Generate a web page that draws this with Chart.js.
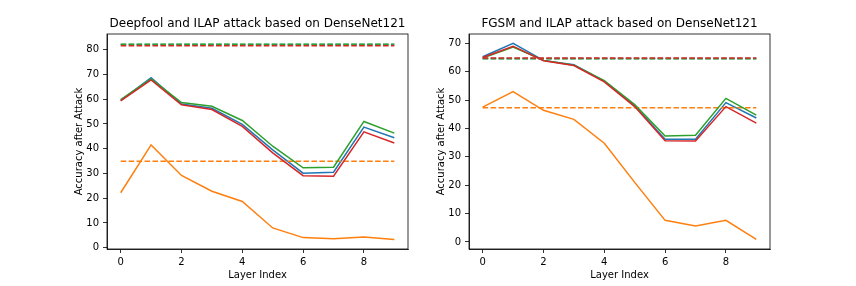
<!DOCTYPE html>
<html>
<head>
<meta charset="utf-8">
<script src="https://cdn.jsdelivr.net/npm/chart.js@4.4.0/dist/chart.umd.min.js"></script>
<style>
  html, body { margin: 0; padding: 0; background: #fff; }
  #wrap { position: relative; width: 856px; height: 286px; }
  canvas { position: absolute; top: 0; }
  #c1 { left: 0; }
  #c2 { left: 428px; }
</style>
</head>
<body>
<div id="wrap">
  <canvas id="c1" width="428" height="286"></canvas>
  <canvas id="c2" width="428" height="286"></canvas>
</div>
<script>
// layer index on the x axis
const layers = [0, 1, 2, 3, 4, 5, 6, 7, 8, 9];
const xTicks = [0, 2, 4, 6, 8];

// Deepfool (left panel)
const dfBlue   = [59.5, 68.7, 58.0, 56.3, 49.8, 39.5, 30.1, 30.5, 48.7, 44.4];
const dfOrange = [22.2, 41.5, 29.2, 22.8, 18.7, 8.0, 4.1, 3.6, 4.3, 3.3];
const dfGreen  = [59.8, 68.2, 58.6, 57.1, 51.4, 41.0, 32.3, 32.5, 51.0, 46.3];
const dfRed    = [59.3, 67.8, 57.7, 55.8, 49.0, 38.3, 29.1, 28.9, 46.8, 42.3];
const dfBase   = [82.1, 34.9, 82.2, 81.6]; // dashed: blue, orange, green, red
const dfYTicks = [0, 10, 20, 30, 40, 50, 60, 70, 80];

// FGSM (right panel)
const fgBlue   = [65.3, 70.0, 64.0, 62.5, 56.7, 48.0, 36.2, 36.2, 49.1, 43.7];
const fgOrange = [47.5, 53.0, 46.4, 43.2, 34.8, 21.0, 7.6, 5.6, 7.6, 0.9];
const fgGreen  = [64.8, 68.7, 64.0, 62.3, 56.9, 48.4, 37.3, 37.6, 50.6, 44.7];
const fgRed    = [65.0, 69.0, 63.9, 62.2, 56.4, 47.7, 35.7, 35.6, 47.7, 41.9];
const fgBase   = [64.7, 47.3, 64.6, 64.8];
const fgYTicks = [0, 10, 20, 30, 40, 50, 60, 70];

const colors = ["#1f77b4", "#ff7f0e", "#2ca02c", "#d62728"];

Chart.defaults.font.family = "'DejaVu Sans', sans-serif";
Chart.defaults.color = "#000";

// axes frame (top and right spines too)
const frame = {
  id: "frame",
  afterDraw(chart) {
    const a = chart.chartArea, ctx = chart.ctx;
    ctx.save();
    ctx.strokeStyle = "#000";
    ctx.lineWidth = 0.8;
    ctx.strokeRect(a.left, a.top, a.right - a.left, a.bottom - a.top);
    ctx.restore();
  }
};

function makeChart(id, title, series, base, yTicks, yMin, yMax, yWidth, yTitlePad, rightPad) {
  const datasets = [];
  series.forEach(function (s, i) {
    datasets.push({
      data: s.map(function (v, j) { return { x: layers[j], y: v }; }),
      borderColor: colors[i],
      borderWidth: 1.5,
      pointRadius: 0,
      tension: 0,
      order: 20 - datasets.length
    });
    datasets.push({
      data: [{ x: layers[0], y: base[i] }, { x: layers[layers.length - 1], y: base[i] }],
      borderColor: colors[i],
      borderWidth: 1.5,
      borderDash: [5.55, 2.4],
      pointRadius: 0,
      order: 20 - datasets.length
    });
  });

  return new Chart(document.getElementById(id), {
    type: "line",
    data: { datasets: datasets },
    plugins: [frame],
    options: {
      responsive: false,
      animation: false,
      layout: { padding: { left: 0, right: rightPad, top: 0, bottom: 0 } },
      plugins: {
        legend: { display: false },
        tooltip: { enabled: false },
        title: {
          display: true,
          text: title,
          fullSize: false,
          color: "#000",
          font: { size: 12, weight: "normal" },
          padding: { top: 16.8, bottom: 2.8 }
        }
      },
      scales: {
        x: {
          type: "linear",
          min: -0.45,
          max: 9.45,
          afterBuildTicks: function (scale) {
            scale.ticks = xTicks.map(function (v) { return { value: v }; });
          },
          afterFit: function (scale) { scale.height = 37; },
          ticks: { font: { size: 10 }, padding: 3, maxRotation: 0, autoSkip: false },
          grid: { drawOnChartArea: false, drawTicks: true, tickLength: 4, color: "#000", lineWidth: 0.8 },
          border: { color: "#000", width: 0.8 },
          title: { display: true, text: "Layer Index", font: { size: 10 }, padding: { top: 0, bottom: 4.5 } }
        },
        y: {
          type: "linear",
          min: yMin,
          max: yMax,
          afterBuildTicks: function (scale) {
            scale.ticks = yTicks.map(function (v) { return { value: v }; });
          },
          afterFit: function (scale) { scale.width = yWidth; },
          ticks: { font: { size: 10 }, padding: 4 },
          grid: { drawOnChartArea: false, drawTicks: true, tickLength: 4, color: "#000", lineWidth: 0.8 },
          border: { color: "#000", width: 0.8 },
          title: { display: true, text: "Accuracy after Attack", font: { size: 10 }, padding: { top: yTitlePad, bottom: 0 } }
        }
      }
    }
  });
}

makeChart("c1", "Deepfool and ILAP attack based on DenseNet121",
  [dfBlue, dfOrange, dfGreen, dfRed], dfBase, dfYTicks, -0.5, 86.3, 107, 73.5, 20);
makeChart("c2", "FGSM and ILAP attack based on DenseNet121",
  [fgBlue, fgOrange, fgGreen, fgRed], fgBase, fgYTicks, -2.5, 73.3, 41, 7.5, 86);
</script>
</body>
</html>
